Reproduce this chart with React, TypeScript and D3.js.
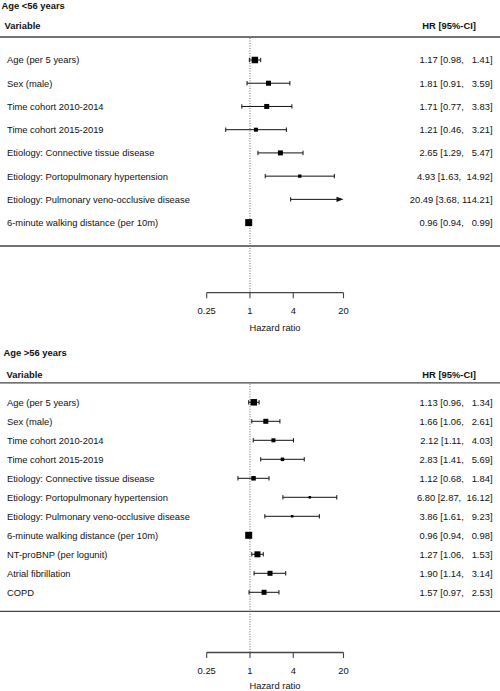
import React from "react";
import * as d3 from "d3";

const W = 500;
const H = 691;

// Panel 1: Age <56 years
const labels1 = [
  "Age (per 5 years)",
  "Sex (male)",
  "Time cohort 2010-2014",
  "Time cohort 2015-2019",
  "Etiology: Connective tissue disease",
  "Etiology: Portopulmonary hypertension",
  "Etiology: Pulmonary veno-occlusive disease",
  "6-minute walking distance (per 10m)",
];
const hr1 = [1.17, 1.81, 1.71, 1.21, 2.65, 4.93, 20.49, 0.96];
const lo1 = [0.98, 0.91, 0.77, 0.46, 1.29, 1.63, 3.68, 0.94];
const hi1 = [1.41, 3.59, 3.83, 3.21, 5.47, 14.92, 114.21, 0.99];
const box1 = [6.5, 5, 5, 4, 5, 3.3, 3, 7];

// Panel 2: Age >56 years
const labels2 = [
  "Age (per 5 years)",
  "Sex (male)",
  "Time cohort 2010-2014",
  "Time cohort 2015-2019",
  "Etiology: Connective tissue disease",
  "Etiology: Portopulmonary hypertension",
  "Etiology: Pulmonary veno-occlusive disease",
  "6-minute walking distance (per 10m)",
  "NT-proBNP (per logunit)",
  "Atrial fibrillation",
  "COPD",
];
const hr2 = [1.13, 1.66, 2.12, 2.83, 1.12, 6.8, 3.86, 0.96, 1.27, 1.9, 1.57];
const lo2 = [0.96, 1.06, 1.11, 1.41, 0.68, 2.87, 1.61, 0.94, 1.06, 1.14, 0.97];
const hi2 = [1.34, 2.61, 4.03, 5.69, 1.84, 16.12, 9.23, 0.98, 1.53, 3.14, 2.53];
const box2 = [6.5, 5, 4, 3.5, 4.5, 2.5, 2.5, 7, 6, 5, 5];

const tickValues = [0.25, 1, 4, 20];
const tickLabels = ["0.25", "1", "4", "20"];
const domain = [0.25, 20];

const FONT = "'Liberation Sans', Arial, sans-serif";
const FS = 9.4;
const TXT = "#111";

const x = d3.scaleLog().base(2).domain(domain).range([206.7, 343.5]);

function fmt(v: number) {
  return v.toFixed(2);
}

type PanelProps = {
  title: string;
  labels: string[];
  hr: number[];
  lo: number[];
  hi: number[];
  box: number[];
  titleY: number;
  titleX: number;
  headY: number;
  headLineY: number;
  rowStart: number;
  rowEnd: number;
  bottomLineY: number;
  axisY: number;
};

function Panel(p: PanelProps) {
  const y = d3
    .scalePoint<number>()
    .domain(p.labels.map((_, i) => i))
    .range([p.rowStart, p.rowEnd]);
  const [dmin, dmax] = x.domain();
  return (
    <g>
      <text x={p.titleX} y={p.titleY} fontWeight="bold" fontSize={FS} fill={TXT}>
        {p.title}
      </text>
      <text x={p.titleX + 3} y={p.headY} fontWeight="bold" fontSize={FS} fill={TXT}>
        Variable
      </text>
      <text x={476} y={p.headY} fontWeight="bold" fontSize={FS} fill={TXT} textAnchor="end">
        HR [95%-CI]
      </text>
      <line x1={0} x2={W} y1={p.headLineY} y2={p.headLineY} stroke="#444" strokeWidth={1.3} />
      <line x1={0} x2={W} y1={p.bottomLineY} y2={p.bottomLineY} stroke="#444" strokeWidth={1.3} />
      <line
        x1={x(1)}
        x2={x(1)}
        y1={p.headLineY + 1}
        y2={p.axisY}
        stroke="#666"
        strokeWidth={1}
        strokeDasharray="1,1.5"
      />
      {p.labels.map((lab, i) => {
        const cy = y(i) as number;
        const l = Math.max(p.lo[i], dmin);
        const h = Math.min(p.hi[i], dmax);
        const clipped = p.hi[i] > dmax;
        const s = p.box[i];
        const ciText = `${fmt(p.hr[i])} [${fmt(p.lo[i])}, ${fmt(p.hi[i]).padStart(6, " ")}]`;
        return (
          <g key={i}>
            <text x={7} y={cy + 3.4} fontSize={FS} fill={TXT}>
              {lab}
            </text>
            <text
              x={492.5}
              y={cy + 3.4}
              fontSize={FS}
              fill={TXT}
              textAnchor="end"
              style={{ whiteSpace: "pre" }}
            >
              {ciText}
            </text>
            <line x1={x(l)} x2={clipped ? x(h) - 6 : x(h)} y1={cy} y2={cy} stroke="#111" strokeWidth={1} />
            {p.lo[i] >= dmin && (
              <line x1={x(l)} x2={x(l)} y1={cy - 2.2} y2={cy + 2.2} stroke="#111" strokeWidth={1} />
            )}
            {!clipped && (
              <line x1={x(h)} x2={x(h)} y1={cy - 2.2} y2={cy + 2.2} stroke="#111" strokeWidth={1} />
            )}
            {clipped && (
              <path
                d={`M${x(h) - 7},${cy - 2.6} L${x(h)},${cy} L${x(h) - 7},${cy + 2.6} Z`}
                fill="#111"
              />
            )}
            {p.hr[i] >= dmin && p.hr[i] <= dmax && (
              <rect x={x(p.hr[i]) - s / 2} y={cy - s / 2} width={s} height={s} fill="#000" />
            )}
          </g>
        );
      })}
      <g>
        <line x1={x(dmin)} x2={x(dmax)} y1={p.axisY} y2={p.axisY} stroke="#444" strokeWidth={1.3} />
        {tickValues.map((t, i) => (
          <g key={t}>
            <line x1={x(t)} x2={x(t)} y1={p.axisY} y2={p.axisY + 5.5} stroke="#444" strokeWidth={1.1} />
            <text x={x(t)} y={p.axisY + 21.4} fontSize={FS} fill={TXT} textAnchor="middle">
              {tickLabels[i]}
            </text>
          </g>
        ))}
        <text
          x={x(1) + 25}
          y={Math.min(p.axisY + 38.6, 689)}
          fontSize={FS}
          fill={TXT}
          textAnchor="middle"
        >
          Hazard ratio
        </text>
      </g>
    </g>
  );
}

export default function App() {
  return (
    <svg
      width={W}
      height={H}
      style={{ position: "absolute", left: 0, top: 0, background: "#fff" }}
      fontFamily={FONT}
    >
      <rect x={0} y={0} width={W} height={H} fill="#fff" />
      <Panel
        title="Age <56 years"
        labels={labels1}
        hr={hr1}
        lo={lo1}
        hi={hi1}
        box={box1}
        titleX={1.5}
        titleY={9}
        headY={28.5}
        headLineY={37}
        rowStart={60}
        rowEnd={222.6}
        bottomLineY={246}
        axisY={292.7}
      />
      <Panel
        title="Age >56 years"
        labels={labels2}
        hr={hr2}
        lo={lo2}
        hi={hi2}
        box={box2}
        titleX={3.5}
        titleY={356}
        headY={377.7}
        headLineY={382.8}
        rowStart={402.3}
        rowEnd={592.3}
        bottomLineY={611.3}
        axisY={652.5}
      />
    </svg>
  );
}
